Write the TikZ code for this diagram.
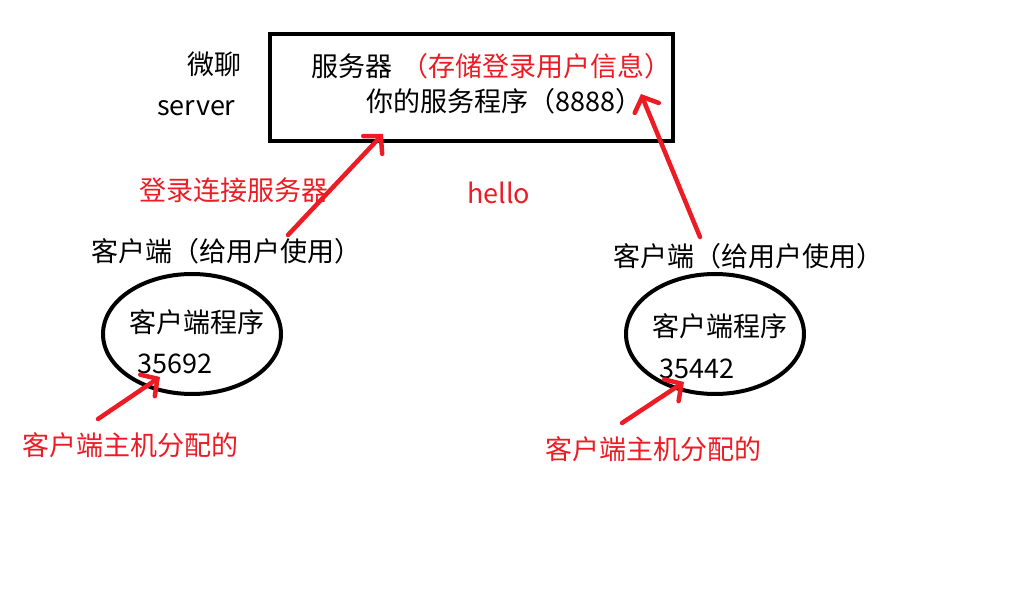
\documentclass[tikz,border=0pt]{standalone}
\usepackage{fontspec}
\setmainfont{Noto Sans CJK SC}
\usetikzlibrary{arrows.meta,shapes.geometric}
\definecolor{paintred}{RGB}{237,28,36}
\tikzset{
  txt/.style={inner sep=0pt, anchor=west, font=\fontsize{27}{30}\selectfont},
  redtxt/.style={txt, text=paintred},
  handarrow/.style={draw=paintred, line width=4.5pt, line cap=round,
    -{Straight Barb[length=12pt,width=26pt,line cap=round]}},
  clientoval/.style={ellipse, draw, line width=4pt, minimum width=178pt, minimum height=120pt, inner sep=0pt},
}
\begin{document}
\begin{tikzpicture}[x=1pt,y=-1pt]
    \useasboundingbox (0,0) rectangle (1018,604);
    % server side
    \node[draw, line width=4pt, minimum width=403pt, minimum height=107pt, inner sep=0pt] (srvbox) at (471.5,87.5) {};
    \node[txt] (weiliao) at (187,64) {微聊};
    \node[txt] (server) at (157,108) {server};
    \node[txt] (srvname) at (311,66) {服务器};
    \node[redtxt] (srvinfo) at (401,66) {（存储登录用户信息）};
    \node[txt] (srvprog) at (366,101) {你的服务程序（8888）};
    \node[redtxt] (login) at (139,190) {登录连接服务器};
    \node[redtxt] (hello) at (467,193) {hello};
    % left client
    \node[txt] (cli1lbl) at (91,251) {客户端（给用户使用）};
    \node[clientoval] (cli1) at (192,334) {};
    \node[txt] (cli1prog) at (129,322) {客户端程序};
    \node[txt] (cli1port) at (137,364) {35692};
    \node[redtxt] (cli1note) at (22,445) {客户端主机分配的};
    % right client
    \node[txt] (cli2lbl) at (613,256) {客户端（给用户使用）};
    \node[clientoval] (cli2) at (715,334) {};
    \node[txt] (cli2prog) at (652,326) {客户端程序};
    \node[txt] (cli2port) at (659,369) {35442};
    \node[redtxt] (cli2note) at (545,449) {客户端主机分配的};
    % arrows
    \coordinate (up1s) at (288,235);
    \coordinate (up1e) at (383,134);
    \coordinate (up2s) at (700,237);
    \coordinate (up2e) at (641,94);
    \coordinate (port1s) at (98,419);
    \coordinate (port1e) at (160,377);
    \coordinate (port2s) at (622,423);
    \coordinate (port2e) at (684,382);
    \draw[handarrow] (up1s) -- (up1e);
    \draw[handarrow] (up2s) -- (up2e);
    \draw[handarrow] (port1s) -- (port1e);
    \draw[handarrow] (port2s) -- (port2e);
\end{tikzpicture}
\end{document}
